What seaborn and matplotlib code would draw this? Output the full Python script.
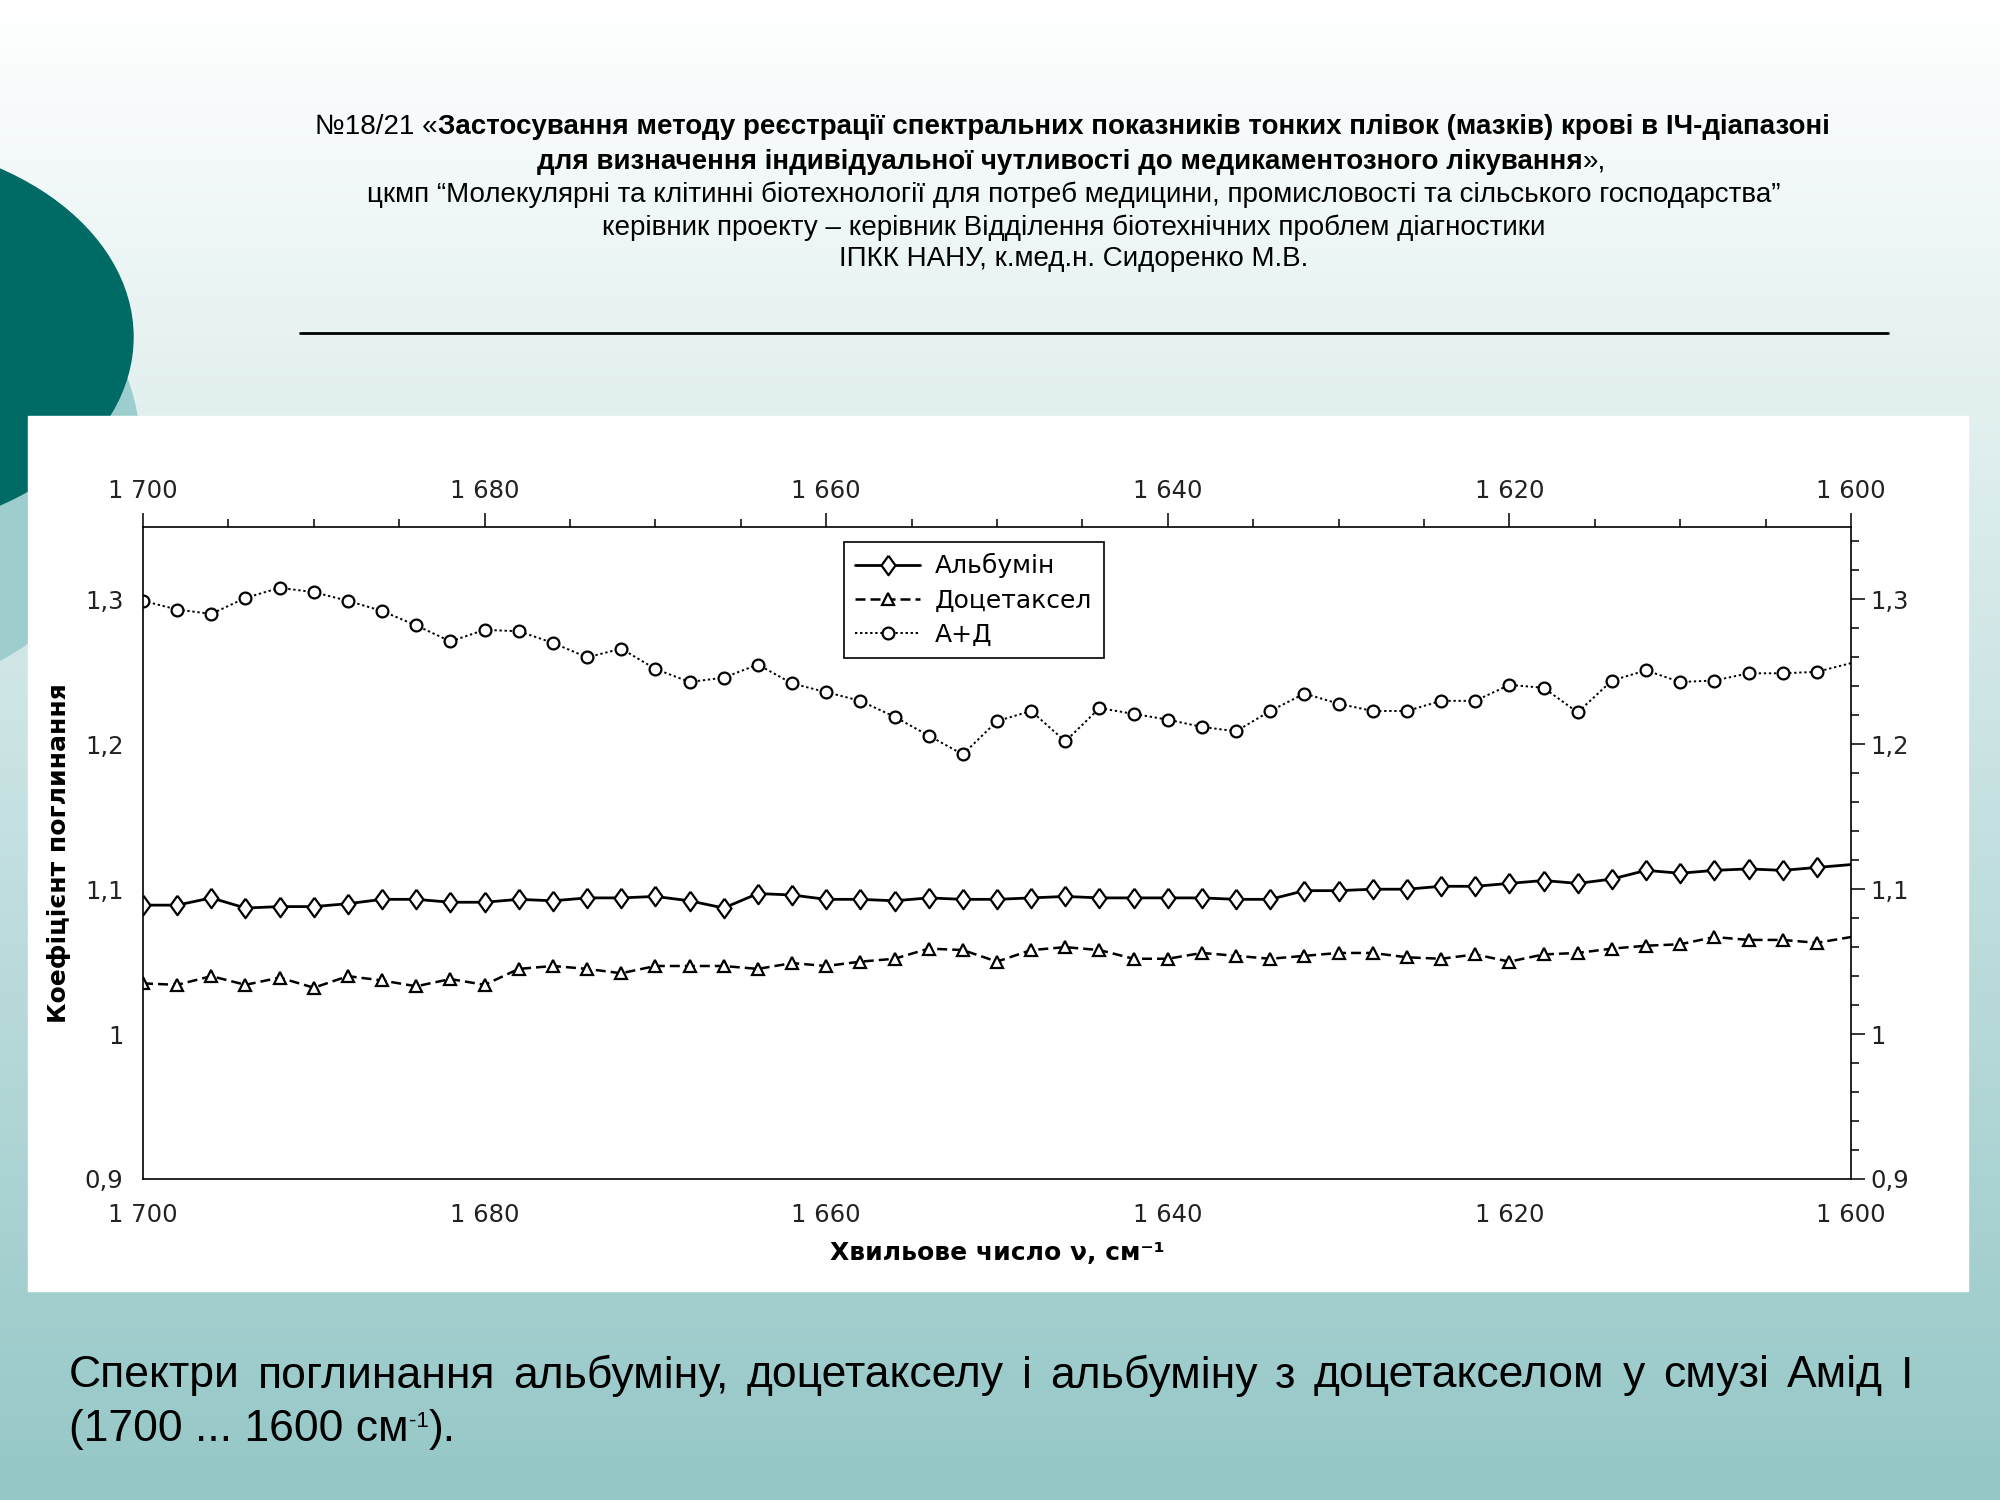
import numpy as np
import pandas as pd
import matplotlib
matplotlib.use("Agg")
import matplotlib.pyplot as plt
import seaborn as sns
from matplotlib.patches import Ellipse, Rectangle
from matplotlib.ticker import MultipleLocator, FuncFormatter

# ---- data (1700 -> 1600 cm-1, step 2) ----
wavenumber = list(range(1700, 1599, -2))

albumin = [1.089, 1.089, 1.094, 1.087, 1.088, 1.088, 1.090, 1.093, 1.093, 1.091,
           1.091, 1.093, 1.092, 1.094, 1.094, 1.095, 1.092, 1.087, 1.097, 1.096,
           1.093, 1.093, 1.092, 1.094, 1.093, 1.093, 1.094, 1.095, 1.094, 1.094,
           1.094, 1.094, 1.093, 1.093, 1.099, 1.099, 1.100, 1.100, 1.102, 1.102,
           1.104, 1.106, 1.104, 1.107, 1.113, 1.111, 1.113, 1.114, 1.113, 1.115,
           1.117]

docetaxel = [1.035, 1.034, 1.040, 1.034, 1.039, 1.032, 1.040, 1.037, 1.033, 1.038,
             1.034, 1.045, 1.047, 1.045, 1.042, 1.047, 1.047, 1.047, 1.045, 1.049,
             1.047, 1.050, 1.052, 1.059, 1.058, 1.050, 1.058, 1.060, 1.058, 1.052,
             1.052, 1.056, 1.054, 1.052, 1.054, 1.056, 1.056, 1.053, 1.052, 1.055,
             1.050, 1.055, 1.056, 1.059, 1.061, 1.062, 1.067, 1.065, 1.065, 1.063,
             1.067]

mix = [1.299, 1.293, 1.290, 1.301, 1.308, 1.305, 1.299, 1.292, 1.282, 1.271,
       1.279, 1.278, 1.270, 1.260, 1.266, 1.252, 1.243, 1.246, 1.255, 1.242,
       1.236, 1.230, 1.219, 1.206, 1.193, 1.216, 1.223, 1.202, 1.225, 1.221,
       1.217, 1.212, 1.209, 1.223, 1.235, 1.228, 1.223, 1.223, 1.230, 1.230,
       1.241, 1.239, 1.222, 1.244, 1.251, 1.243, 1.244, 1.249, 1.249, 1.250,
       1.256]

series_names = ["Альбумін", "Доцетаксел", "А+Д"]

title_bold_1 = "Застосування методу реєстрації спектральних показників тонких плівок (мазків) крові в ІЧ-діапазоні"
title_bold_2 = "для визначення індивідуальної чутливості до медикаментозного лікування"
title_line_3 = "цкмп “Молекулярні та клітинні біотехнології для потреб медицини, промисловості та сільського господарства”"
title_line_4 = "керівник проекту – керівник Відділення біотехнічних проблем діагностики"
title_line_5 = "ІПКК НАНУ, к.мед.н. Сидоренко М.В."
caption_1 = "Спектри поглинання альбуміну, доцетакселу і альбуміну з доцетакселом у смузі Амід І"

df = pd.DataFrame({"nu": wavenumber, "alb": albumin, "doc": docetaxel, "mix": mix})

sns.set_style("white")
plt.rcParams["font.family"] = ["DejaVu Sans"]
plt.rcParams["text.color"] = "black"
plt.rcParams["axes.labelcolor"] = "black"

fig = plt.figure(figsize=(20, 15), dpi=100)

# ---- slide background ----
bg = fig.add_axes([0, 0, 1, 1], zorder=-10)
bg.set_xlim(0, 2000)
bg.set_ylim(1500, 0)
bg.axis("off")
grad = np.linspace(0, 1, 300)[:, None]
top_c = np.array([1.0, 1.0, 1.0])
bot_c = np.array([0x95, 0xc7, 0xc7]) / 255
img = top_c[None, None, :] * (1 - grad[:, :, None]) + bot_c[None, None, :] * grad[:, :, None]
bg.imshow(img, extent=[0, 2000, 1500, 0], aspect="auto")
bg.add_patch(Ellipse((-200, 450), 680, 520, color="#9dcdcd", zorder=2))
bg.add_patch(Ellipse((-150, 337), 566, 396, color="#006a65", zorder=3))
bg.add_patch(Rectangle((28, 416), 1940, 875, color="white", zorder=4))
bg.plot([300, 1888], [333, 333], color="black", lw=2, zorder=5)

# ---- chart ----
diamond = [(0, 1), (0.72, 0), (0, -1), (-0.72, 0), (0, 1)]

ax = fig.add_axes([0.0715, 0.214, 0.854, 0.4347])
ax.set_facecolor("white")
sns.lineplot(data=df, x="nu", y="alb", ax=ax, sort=False, color="black", lw=2.0,
             marker=diamond, markersize=14, markerfacecolor="white", markeredgecolor="black",
             markeredgewidth=1.6, markevery=slice(0, 50), label=series_names[0])
sns.lineplot(data=df, x="nu", y="doc", ax=ax, sort=False, color="black", lw=1.8,
             dashes=False, marker="^", markersize=8, markerfacecolor="white",
             markeredgecolor="black", markeredgewidth=1.6, markevery=slice(0, 50),
             label=series_names[1])
sns.lineplot(data=df, x="nu", y="mix", ax=ax, sort=False, color="black", lw=1.4,
             dashes=False, marker="o", markersize=8.5, markerfacecolor="white",
             markeredgecolor="black", markeredgewidth=1.6, markevery=slice(0, 50),
             label=series_names[2])
lines = ax.get_lines()
lines[1].set_dashes([4, 2])
lines[2].set_dashes([1.2, 1.4])

ax.set_xlim(1700, 1600)
ax.set_ylim(0.9, 1.35)
ax.xaxis.set_major_locator(MultipleLocator(20))
ax.xaxis.set_minor_locator(MultipleLocator(5))
ax.yaxis.set_major_locator(MultipleLocator(0.1))
ax.yaxis.set_minor_locator(MultipleLocator(0.02))
ax.xaxis.set_major_formatter(FuncFormatter(lambda v, p: f"{int(round(v)):,}".replace(",", " ")))


def yfmt(v, p):
    s = f"{v:.1f}".replace(".", ",")
    return "1" if s == "1,0" else s


ax.yaxis.set_major_formatter(FuncFormatter(yfmt))
ax.tick_params(which="both", direction="out", top=True, right=True,
               labeltop=True, labelright=True, colors="black", labelcolor="#222222",
               labelsize=17.5)
ax.tick_params(which="major", length=10, width=1.1)
ax.tick_params(axis="x", which="major", pad=7)
ax.tick_params(axis="y", which="major", pad=4)
ax.tick_params(which="minor", length=5.5, width=1.1)
for s in ax.spines.values():
    s.set_color("black")
    s.set_linewidth(1.2)

ax.set_xlabel("Хвильове число ν, см⁻¹", fontsize=18, fontweight="bold")
ax.set_ylabel("Коефіцієнт поглинання", fontsize=18, fontweight="bold")
ax.xaxis.set_label_coords(0.5, -0.095)
ax.yaxis.set_label_coords(-0.042, 0.5)

leg = ax.legend(loc="upper left", bbox_to_anchor=(0.403, 0.996), fontsize=18,
                frameon=True, fancybox=False, framealpha=1, edgecolor="black",
                handlelength=2.6, labelspacing=0.4, borderpad=0.45, handletextpad=0.6)
leg.get_frame().set_linewidth(1.2)

# ---- slide title ----
tf = ["Liberation Sans", "DejaVu Sans"]
tfs = 20
tb1 = fig.text(0.567, 0.915, title_bold_1, ha="center", va="center", fontsize=tfs,
               fontweight="bold", family=tf)
ax.annotate("№18/21 «", xy=(0, 0), xycoords=tb1, ha="right", va="bottom",
            fontsize=tfs, family=tf, annotation_clip=False)
tb2 = fig.text(0.530, 0.892, title_bold_2, ha="center", va="center", fontsize=tfs,
               fontweight="bold", family=tf)
ax.annotate("»,", xy=(1, 0), xycoords=tb2, ha="left", va="bottom",
            fontsize=tfs, family=tf, annotation_clip=False)
fig.text(0.537, 0.870, title_line_3, ha="center", va="center", fontsize=tfs, family=tf)
fig.text(0.537, 0.848, title_line_4, ha="center", va="center", fontsize=tfs, family=tf)
fig.text(0.537, 0.827, title_line_5, ha="center", va="center", fontsize=tfs, family=tf)

# ---- caption (justified first line) ----
fig.canvas.draw()
r = fig.canvas.get_renderer()
cap_fs = 32
words = caption_1.split()
widths = []
for w in words:
    t = fig.text(0, 0, w, fontsize=cap_fs, family=tf)
    widths.append(t.get_window_extent(r).width)
    t.remove()
x0, x1 = 69, 1913
gap = (x1 - x0 - sum(widths)) / (len(words) - 1)
xp = x0
for w, wd in zip(words, widths):
    fig.text(xp / 2000, 1 - 1376 / 1500, w, fontsize=cap_fs, family=tf, va="center")
    xp += wd + gap

c2 = fig.text(69 / 2000, 1 - 1430 / 1500, "(1700 ... 1600 см", fontsize=cap_fs,
              family=tf, va="center")
sup = ax.annotate("-1", xy=(1, 0.45), xycoords=c2, ha="left", va="bottom",
                  fontsize=16, family=tf, annotation_clip=False)
ax.annotate(").", xy=(1, 0), xycoords=(sup, c2), ha="left", va="bottom",
            fontsize=cap_fs, family=tf, annotation_clip=False)

fig.savefig("out.png", dpi=100)
